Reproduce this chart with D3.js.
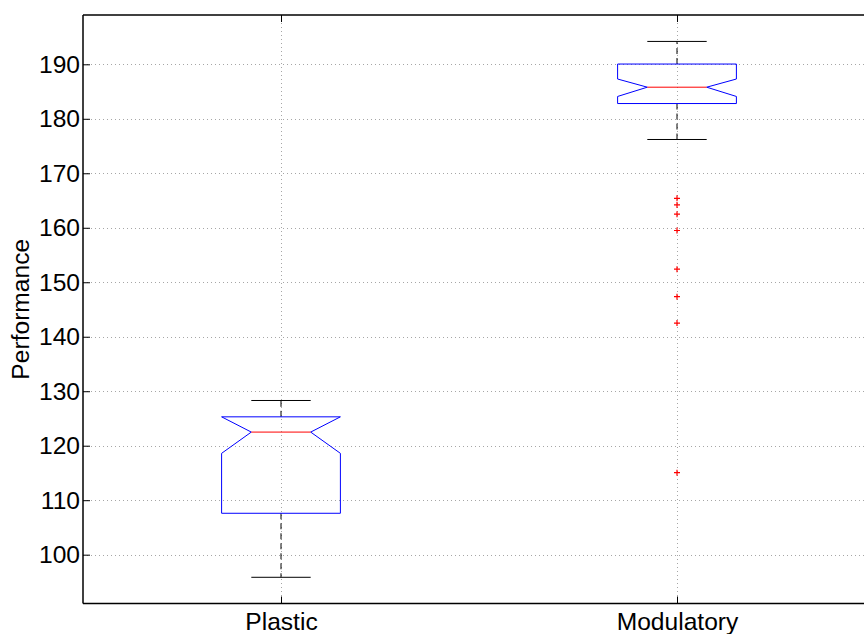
<!DOCTYPE html>
<html>
<head>
<meta charset="utf-8">
<script src="https://cdn.jsdelivr.net/npm/d3@7"></script>
<style>
  html, body { margin: 0; padding: 0; background: #fff; }
  svg { display: block; }
  text { font-family: "Liberation Sans", Arial, Helvetica, sans-serif; fill: #000; }
</style>
</head>
<body>
<svg id="chart" width="864" height="634"></svg>
<script>
// Box-plot summary per group
const categories    = ["Plastic", "Modulatory"];
const lowerWhisker  = [95.85, 176.2];
const q1            = [107.6, 182.8];
const median        = [122.5, 185.8];
const q3            = [125.3, 190.05];
const upperWhisker  = [128.3, 194.2];
const notchLow      = [118.6, 184.1];
const notchHigh     = [126.4, 187.3];
const outliers      = [[], [165.4, 164.2, 162.5, 159.5, 152.4, 147.35, 142.5, 115.05]];
const yTicks        = [100, 110, 120, 130, 140, 150, 160, 170, 180, 190];
const yLabel        = "Performance";

const svg = d3.select("#chart");
const plotLeft = 83, plotRight = 875, plotTop = 15, plotBottom = 603.5;

const x = d3.scaleLinear().domain([0.5, categories.length + 0.5]).range([plotLeft, plotRight]);
const y = d3.scaleLinear().domain([91.04, 199.05]).range([plotBottom, plotTop]);

const boxHalf = 0.15, capHalf = 0.075;
const fontSize = 24.6;

// grid
const grid = svg.append("g").attr("stroke", "#a6a6a6").attr("stroke-width", 1)
  .attr("stroke-dasharray", "1,3").attr("fill", "none");
grid.selectAll("line.h").data(yTicks).join("line").attr("class", "h")
  .attr("x1", plotLeft).attr("x2", plotRight)
  .attr("y1", d => Math.round(y(d)) + 0.5).attr("y2", d => Math.round(y(d)) + 0.5);
grid.selectAll("line.v").data(categories).join("line").attr("class", "v")
  .attr("x1", (d, i) => Math.round(x(i + 1)) + 0.5).attr("x2", (d, i) => Math.round(x(i + 1)) + 0.5)
  .attr("y1", plotTop).attr("y2", plotBottom);

// boxes
const groups = svg.append("g").selectAll("g").data(categories).join("g");

groups.each(function (name, i) {
  const g = d3.select(this);
  const c = i + 1;
  const cx = x(c);
  // whiskers (dashed)
  g.append("line").attr("x1", cx).attr("x2", cx)
    .attr("y1", y(q3[i])).attr("y2", y(upperWhisker[i]))
    .attr("stroke", "#000").attr("stroke-width", 1).attr("stroke-dasharray", "6,4");
  g.append("line").attr("x1", cx).attr("x2", cx)
    .attr("y1", y(q1[i])).attr("y2", y(lowerWhisker[i]))
    .attr("stroke", "#000").attr("stroke-width", 1).attr("stroke-dasharray", "6,4");
  // caps
  [upperWhisker[i], lowerWhisker[i]].forEach(v => {
    g.append("line").attr("x1", x(c - capHalf)).attr("x2", x(c + capHalf))
      .attr("y1", y(v)).attr("y2", y(v))
      .attr("stroke", "#000").attr("stroke-width", 1);
  });
  // notched box
  const nLo = Math.max(notchLow[i], q1[i]);
  const nHi = Math.min(notchHigh[i], q3[i]);
  const pts = [
    [c - boxHalf, q1[i]], [c - boxHalf, nLo], [c - capHalf, median[i]], [c - boxHalf, nHi],
    [c - boxHalf, q3[i]], [c + boxHalf, q3[i]], [c + boxHalf, nHi], [c + capHalf, median[i]],
    [c + boxHalf, nLo], [c + boxHalf, q1[i]]
  ];
  g.append("path")
    .attr("d", d3.line().x(p => x(p[0])).y(p => y(p[1]))(pts) + "Z")
    .attr("fill", "none").attr("stroke", "#0000ff").attr("stroke-width", 1);
  // median
  g.append("line").attr("x1", x(c - capHalf)).attr("x2", x(c + capHalf))
    .attr("y1", y(median[i])).attr("y2", y(median[i]))
    .attr("stroke", "#ff0000").attr("stroke-width", 1);
  // outliers
  g.selectAll("path.out").data(outliers[i]).join("path").attr("class", "out")
    .attr("d", v => `M${cx - 3},${y(v)}H${cx + 3}M${cx},${y(v) - 3}V${y(v) + 3}`)
    .attr("stroke", "#ff0000").attr("stroke-width", 1.2).attr("fill", "none");
});

// axes frame
const frame = svg.append("g").attr("stroke", "#000").attr("stroke-width", 1.5).attr("fill", "none");
frame.append("line").attr("x1", plotLeft).attr("x2", plotLeft).attr("y1", plotTop).attr("y2", plotBottom);
frame.append("line").attr("x1", plotLeft).attr("x2", plotRight).attr("y1", plotTop).attr("y2", plotTop);
frame.append("line").attr("x1", plotLeft).attr("x2", plotRight).attr("y1", plotBottom).attr("y2", plotBottom);

// y axis ticks and labels
const yAxis = d3.axisLeft(y).tickValues(yTicks).tickSizeInner(-7).tickSizeOuter(0).tickPadding(10);
const ya = svg.append("g").attr("transform", `translate(${plotLeft},0)`).call(yAxis);
ya.select(".domain").remove();
ya.selectAll(".tick line").attr("stroke", "#000").attr("stroke-width", 1);
ya.selectAll(".tick text").attr("font-size", fontSize)
  .attr("font-family", "'Liberation Sans', Arial, sans-serif").attr("x", -3);

// x axis ticks (inward at bottom and top) and labels
const xTickVals = categories.map((d, i) => i + 1);
const xAxis = d3.axisBottom(x).tickValues(xTickVals).tickFormat((d, i) => categories[i])
  .tickSizeInner(-7).tickSizeOuter(0).tickPadding(0);
const xa = svg.append("g").attr("transform", `translate(0,${plotBottom})`).call(xAxis);
xa.select(".domain").remove();
xa.selectAll(".tick line").attr("stroke", "#000").attr("stroke-width", 1);
xa.selectAll(".tick text").attr("font-size", fontSize)
  .attr("font-family", "'Liberation Sans', Arial, sans-serif")
  .attr("dy", null).attr("y", 26);

const xTop = svg.append("g").attr("transform", `translate(0,${plotTop})`)
  .call(d3.axisTop(x).tickValues(xTickVals).tickFormat("").tickSizeInner(-7).tickSizeOuter(0));
xTop.select(".domain").remove();
xTop.selectAll(".tick line").attr("stroke", "#000").attr("stroke-width", 1);

// y label
svg.append("text")
  .attr("transform", `translate(28.5,${(plotTop + plotBottom) / 2}) rotate(-90)`)
  .attr("text-anchor", "middle")
  .attr("font-size", fontSize)
  .text(yLabel);
</script>
</body>
</html>
